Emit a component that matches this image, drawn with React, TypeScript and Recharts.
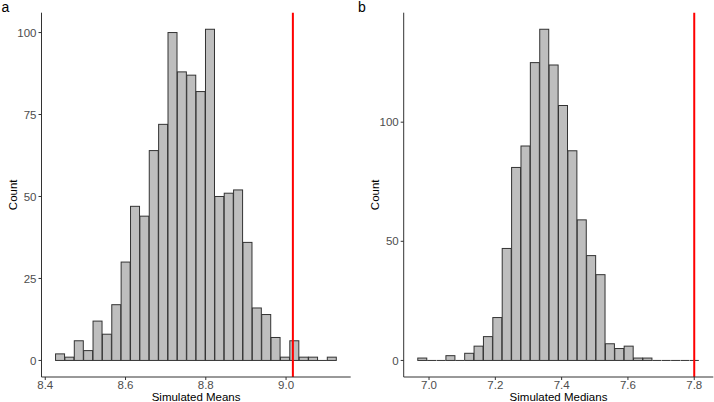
import { ComposedChart, Bar, XAxis, YAxis, ReferenceLine } from 'recharts';

// Bin centres and counts for the simulated means (30 bins)
const meanBins = [
  8.4373, 8.4606, 8.484, 8.5073, 8.5307, 8.554, 8.5774, 8.6007, 8.6241, 8.6474,
  8.6708, 8.6941, 8.7175, 8.7408, 8.7642, 8.7875, 8.8109, 8.8342, 8.8576, 8.8809,
  8.9043, 8.9276, 8.951, 8.9743, 8.9977, 9.021, 9.0444, 9.0677, 9.0911, 9.1144,
];
const meanCounts = [
  2, 1, 6, 3, 12, 8, 17, 30, 47, 44,
  64, 72, 100, 88, 87, 82, 101, 50, 51, 52,
  36, 16, 14, 7, 1, 6, 1, 1, 0, 1,
];
const meanTicks = [8.4, 8.6, 8.8, 9.0];
const meanCountTicks = [0, 25, 50, 75, 100];
const observedMean = 9.017;

// Bin centres and counts for the simulated medians (30 bins)
const medianBins = [
  6.9802, 7.0085, 7.0368, 7.0651, 7.0934, 7.1217, 7.15, 7.1783, 7.2066, 7.2349,
  7.2632, 7.2915, 7.3198, 7.3481, 7.3764, 7.4047, 7.433, 7.4613, 7.4896, 7.5179,
  7.5462, 7.5745, 7.6028, 7.6311, 7.6594, 7.6877, 7.716, 7.7443, 7.7726, 7.8009,
];
const medianCounts = [
  1, 0, 0, 2, 0, 3, 6, 10, 18, 47,
  81, 90, 125, 139, 124, 107, 88, 59, 44, 36,
  7, 5, 6, 1, 1, 0, 0, 0, 0, 0,
];
const medianTicks = [7.0, 7.2, 7.4, 7.6, 7.8];
const medianCountTicks = [0, 50, 100];
const observedMedian = 7.8;

const FONT = '"Liberation Sans", Arial, Helvetica, sans-serif';
const AXIS = '#333333';
const TICK_TEXT = '#4d4d4d';

// ggplot-style padding: 5% of the data range on each side
const padded = (lo: number, hi: number): [number, number] => {
  const pad = (hi - lo) * 0.05;
  return [lo - pad, hi + pad];
};

// zero-count bins still get a flat outline along the baseline
const HistBar = (props: any) => {
  const { x, y, width, height } = props;
  if (!height) {
    return <line x1={x} x2={x + width} y1={y} y2={y} stroke={AXIS} strokeWidth={1} />;
  }
  return (
    <rect x={x} y={y} width={width} height={height} fill="#bebebe" stroke={AXIS} strokeWidth={1} />
  );
};

interface HistProps {
  bins: number[];
  counts: number[];
  xTicks: number[];
  yTicks: number[];
  observed: number;
  xTitle: string;
  width: number;
  yAxisWidth: number;
  rightMargin: number;
}

function Histogram({ bins, counts, xTicks, yTicks, observed, xTitle, width, yAxisWidth, rightMargin }: HistProps) {
  const data = bins.map((b, i) => ({ bin: b, count: counts[i] }));
  const half = (bins[1] - bins[0]) / 2;
  const xDomain = padded(bins[0] - half, bins[bins.length - 1] + half);
  const yDomain = padded(0, Math.max(...counts));

  return (
    <ComposedChart
      width={width}
      height={402}
      data={data}
      margin={{ top: 12.7, right: rightMargin, left: 0, bottom: 0 }}
      barCategoryGap={0}
      barGap={0}
    >
      <XAxis
        dataKey="bin"
        type="number"
        domain={xDomain}
        ticks={xTicks}
        allowDataOverflow
        tickFormatter={(v: number) => v.toFixed(1)}
        height={25}
        tickSize={3}
        tickMargin={1}
        stroke={AXIS}
        tick={{ fill: TICK_TEXT, fontSize: 11.5, fontFamily: FONT }}
        label={{ value: xTitle, position: 'insideBottom', offset: 1, fill: '#000', fontSize: 11.5, fontFamily: FONT }}
      />
      <YAxis
        type="number"
        domain={yDomain}
        ticks={yTicks}
        allowDataOverflow
        width={yAxisWidth}
        tickSize={3}
        tickMargin={2}
        stroke={AXIS}
        tick={{ fill: TICK_TEXT, fontSize: 11.5, fontFamily: FONT }}
      />
      <Bar dataKey="count" shape={HistBar} isAnimationActive={false} />
      <ReferenceLine x={observed} stroke="#ff0000" strokeWidth={2} />
    </ComposedChart>
  );
}

export default function App() {
  return (
    <div style={{ position: 'absolute', left: 0, top: 0, width: 714, height: 402, background: '#fff' }}>
      <div style={{ position: 'absolute', left: 0, top: 0 }}>
        <Histogram
          bins={meanBins}
          counts={meanCounts}
          xTicks={meanTicks}
          yTicks={meanCountTicks}
          observed={observedMean}
          xTitle="Simulated Means"
          width={355}
          yAxisWidth={41.5}
          rightMargin={4.3}
        />
      </div>
      <div style={{ position: 'absolute', left: 355, top: 0 }}>
        <Histogram
          bins={medianBins}
          counts={medianCounts}
          xTicks={medianTicks}
          yTicks={medianCountTicks}
          observed={observedMedian}
          xTitle="Simulated Medians"
          width={359}
          yAxisWidth={48.7}
          rightMargin={0.7}
        />
      </div>
      {/* panel tags and y-axis titles */}
      <svg
        width={714}
        height={402}
        style={{ position: 'absolute', left: 0, top: 0, pointerEvents: 'none' }}
        fontFamily={FONT}
      >
        <text x={1.5} y={11.5} fontSize={14}>a</text>
        <text x={358} y={11.5} fontSize={14}>b</text>
        <text
          x={13}
          y={194.8}
          fontSize={11.5}
          textAnchor="middle"
          dominantBaseline="central"
          transform="rotate(-90 13 194.8)"
        >
          Count
        </text>
        <text
          x={375}
          y={194.8}
          fontSize={11.5}
          textAnchor="middle"
          dominantBaseline="central"
          transform="rotate(-90 375 194.8)"
        >
          Count
        </text>
      </svg>
    </div>
  );
}
